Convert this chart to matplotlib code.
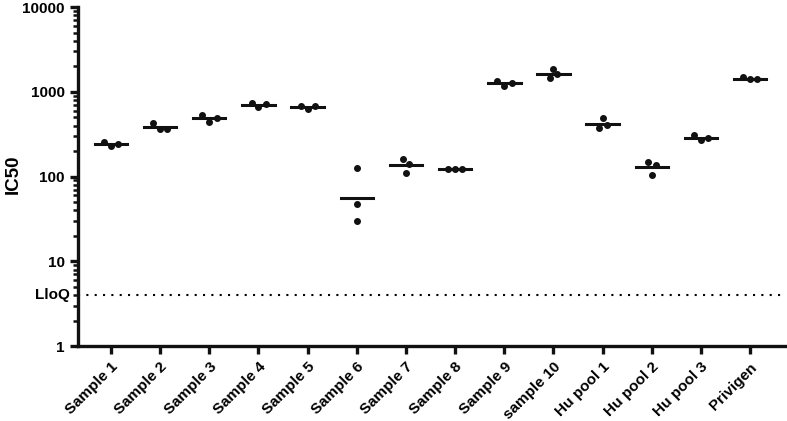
import numpy as np
from matplotlib import pyplot as plt

plt.rcParams['font.family'] = ['Liberation Sans', 'DejaVu Sans']
plt.rcParams['font.weight'] = 'bold'

# groups and replicate IC50 values
groups = ["Sample 1", "Sample 2", "Sample 3", "Sample 4", "Sample 5", "Sample 6",
          "Sample 7", "Sample 8", "Sample 9", "sample 10", "Hu pool 1", "Hu pool 2",
          "Hu pool 3", "Privigen"]
values = [
    [257, 229, 242],
    [431, 363, 366],
    [536, 440, 494],
    [736, 661, 717],
    [685, 621, 679],
    [125, 47, 30],
    [161, 111, 142],
    [124, 124, 124],
    [1352, 1159, 1270],
    [1841, 1442, 1619],
    [486, 370, 402],
    [150, 104, 137],
    [312, 270, 287],
    [1479, 1403, 1413],
]
# horizontal spread of the replicate dots (like the swarm in the original)
spread = [
    [-0.14, 0, 0.14], [-0.14, 0, 0.14], [-0.14, 0, 0.15], [-0.14, 0, 0.15],
    [-0.14, 0, 0.15], [0, 0, 0], [-0.07, 0, 0.07], [-0.14, 0, 0.15],
    [-0.14, 0, 0.15], [0, -0.08, 0.08], [0, -0.08, 0.08], [-0.08, 0, 0.08],
    [-0.14, 0, 0.15], [-0.14, 0, 0.15],
]
lloq = 4

fig = plt.figure(figsize=(7.87, 4.21), dpi=100)
ax = fig.add_axes([0.0991, 0.178, 0.8984, 0.805])

for i, (vals, offs) in enumerate(zip(values, spread)):
    x = [i + o for o in offs]
    ax.plot(x, vals, "o", color="#111111", markersize=4, zorder=3)
    gmean = np.exp(np.mean(np.log(vals)))
    ax.plot([i - 0.33, i + 0.33], [gmean, gmean], color="#111111", lw=2.2, zorder=2)

ax.axhline(lloq, color="black", ls=(0, (1, 3)), lw=1.5)
ax.text(-0.011, lloq, "LloQ", transform=ax.get_yaxis_transform(), ha="right", va="center",
        fontsize=11, fontweight="bold")

ax.set_yscale("log")
ax.set_ylim(1, 10000)
ax.set_yticks([1, 10, 100, 1000, 10000])
ax.set_yticklabels(["1", "10", "100", "1000", "10000"])
ax.set_xlim(-0.67, 13.71)
ax.set_xticks(range(len(groups)))
ax.set_xticklabels(groups, rotation=45, ha="right", rotation_mode="anchor", fontsize=11)
ax.set_ylabel("IC50", fontsize=13.5, fontweight="bold")
ax.yaxis.set_label_coords(-0.08, 0.507)

for s in ["top", "right"]:
    ax.spines[s].set_visible(False)
for s in ["left", "bottom"]:
    ax.spines[s].set_linewidth(2.4)
    ax.spines[s].set_color("#111111")
ax.tick_params(axis="both", which="major", length=6, width=2.4, color="#111111", labelsize=11)
ax.tick_params(axis="y", which="minor", length=3.5, width=1.8, color="#111111")
ax.tick_params(axis="x", which="major", pad=4)

fig.savefig("out.png", dpi=100)
